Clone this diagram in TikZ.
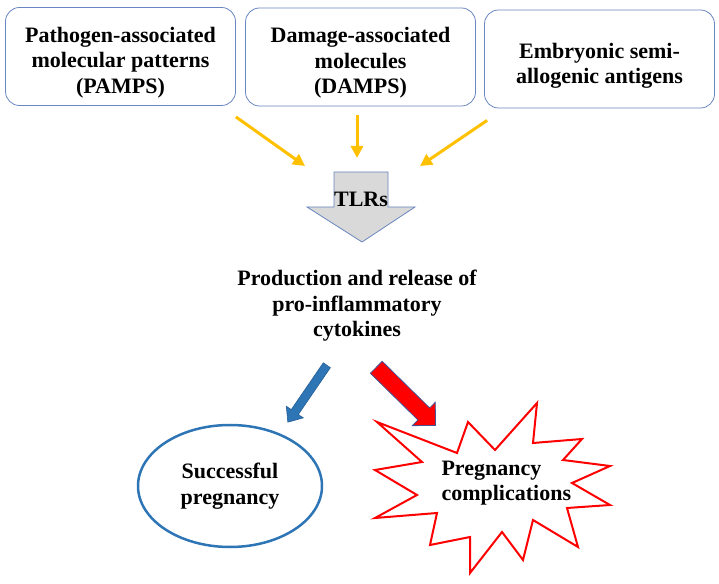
\documentclass[tikz,border=0pt]{standalone}
\usepackage{fontspec}
\setmainfont{Liberation Serif}
\usetikzlibrary{shapes.geometric,shapes.arrows,arrows.meta,calc}
\definecolor{boxline}{RGB}{106,134,192}
\definecolor{gold}{RGB}{255,192,0}
\definecolor{okblue}{RGB}{46,117,182}
\definecolor{tlrgray}{RGB}{217,217,217}
\definecolor{rimblue}{RGB}{68,84,150}
\tikzset{
  lbl/.style={font=\bfseries\fontsize{22}{25.5}\selectfont, align=center},
  srcbox/.style={draw=boxline, line width=0.8pt, rounded corners=14pt,
    minimum width=230pt, minimum height=98pt, inner sep=0pt},
  feed/.style={draw=gold, line width=3pt, -{Triangle[length=12pt,width=12pt]}},
  fatarrow/.style={single arrow, anchor=tail, single arrow head extend=6pt},
}
\begin{document}
\begin{tikzpicture}[x=1pt,y=1pt]
  \useasboundingbox (0,0) rectangle (719,583);
  % sources
  \node[srcbox] (pamps) at (120.5,526.5) {};
  \node[srcbox] (damps) at (360.5,526) {};
  \node[srcbox] (embryo) at (599.5,524) {};
  \node[lbl] (pampsTxt) at ($(pamps)+(0,-6)$) {Pathogen-associated\\molecular patterns\\(PAMPS)};
  \node[lbl] (dampsTxt) at ($(damps)+(0,-6)$) {Damage-associated\\molecules\\(DAMPS)};
  \node[lbl] (embryoTxt) at ($(embryo)+(0,-7)$) {Embryonic semi-\\allogenic antigens};

  % receptor
  \draw[draw=boxline, fill=tlrgray, line width=0.8pt]
    (334,411) -- (388,411) -- (388,376) -- (415,376) -- (362,341)
    -- (307,376) -- (334,376) -- cycle;
  \node[lbl] (tlr) at (361,384) {TLRs};

  \draw[feed] ($(pamps.south east)+(0,-11)$) -- ($(tlr)+(-56,33)$);
  \draw[feed] ($(damps.south)+(-3.5,-9)$) -- ($(tlr)+(-4,41)$);
  \draw[feed] ($(embryo.south west)+(3,-12)$) -- ($(tlr)+(59,33)$);

  \node[lbl] (prod) at (357,277) {Production and release of\\pro-inflammatory\\cytokines};

  % outcomes
  \node[lbl, ellipse, draw=okblue, line width=2.5pt, minimum width=184pt,
    minimum height=122pt] (good) at (230,97) {Successful\\pregnancy};
  \draw[red, line width=2pt]
    (377,161) -- (457,130) -- (468,161) -- (495,133) -- (537,180) -- (533,140)
    -- (582,144) -- (563,123) -- (610,117) -- (572,100) -- (610,78) -- (567,75)
    -- (578,36) -- (533,63) -- (523,23) -- (502,51) -- (470,10) -- (470,46)
    -- (430,38) -- (437,70) -- (375,65) -- (417,88) -- (375,113) -- (422,121) -- cycle;
  \node[lbl, align=left, anchor=west] (bad) at (438,100) {Pregnancy\\complications};

  \node[fatarrow, draw=okblue!80!black, fill=okblue, line width=0.6pt, rotate=235.6,
    minimum height=69pt, minimum width=20pt, inner sep=4pt,
    single arrow tip angle=80] (toGood) at (327,218) {};
  \node[fatarrow, draw=rimblue, fill=red, line width=0.8pt, rotate=-44.5,
    minimum height=83pt, minimum width=32pt, inner sep=8pt,
    single arrow head extend=8pt] (toBad) at (376,216) {};
\end{tikzpicture}
\end{document}
